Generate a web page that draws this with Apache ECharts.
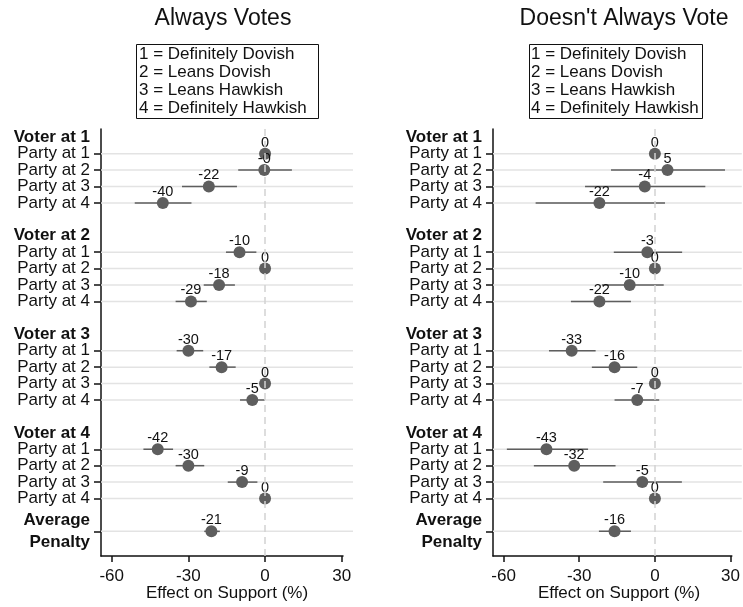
<!DOCTYPE html>
<html>
<head>
<meta charset="utf-8">
<script src="https://cdn.jsdelivr.net/npm/echarts@6/dist/echarts.min.js"></script>
<style>
  html, body { margin: 0; padding: 0; background: #fff; }
  #chart { width: 743px; height: 607px; }
</style>
</head>
<body>
<div id="chart"></div>
<script>
// Row structure (top to bottom)
const voterGroups = ['Voter at 1', 'Voter at 2', 'Voter at 3', 'Voter at 4'];
const partyLabels = ['Party at 1', 'Party at 2', 'Party at 3', 'Party at 4'];
const averageLabel = ['Average', 'Penalty'];
const panelTitles = ['Always Votes', "Doesn't Always Vote"];
const keyLines = ['1 = Definitely Dovish', '2 = Leans Dovish', '3 = Leans Hawkish', '4 = Definitely Hawkish'];
const xTickValues = [-60, -30, 0, 30];
const xAxisTitle = 'Effect on Support (%)';

// Estimates in order V1P1..V1P4, V2P1..V4P4, then the average penalty
const alwaysEst = [0, -0.3, -22, -40, -10, 0, -18, -29, -30, -17, 0, -5, -42, -30, -9, 0, -21];
const alwaysLow = [null, -10.5, -32.5, -51, -15.3, null, -24, -35, -34.6, -21.8, null, -9.8, -47.6, -35, -14.6, null, -23.8];
const alwaysHigh = [null, 10.5, -11, -28.8, -3.4, null, -11.8, -22.8, -24.2, -11.5, null, -0.2, -36, -23.8, -3, null, -17.7];

const sometimesEst = [0, 5, -4, -22, -3, 0, -10, -22, -33, -16, 0, -7, -43, -32, -5, 0, -16];
const sometimesLow = [null, -17.4, -27.7, -47.3, -16.3, null, -21, -33.3, -42, -25, null, -16, -58.7, -48, -20.5, null, -22.2];
const sometimesHigh = [null, 27.8, 20, 4, 10.8, null, 3.5, -9.5, -23.5, -7, null, 1.7, -26.5, -15.6, 10.7, null, -9.5];

const FONT = 'Liberation Sans';
const INK = '#111';
const MARK = '#5e5e5e';
const LABEL_SIZE = 17;

// Build the category slots: header, 4 parties, blank for each voter; then average
const categories = [];
const rowKinds = [];
const estimateRows = [];
voterGroups.forEach((v) => {
  categories.push(v); rowKinds.push('head');
  partyLabels.forEach((p) => {
    estimateRows.push(categories.length);
    categories.push(p); rowKinds.push('party');
  });
  categories.push(''); rowKinds.push('blank');
});
estimateRows.push(categories.length);
categories.push('average'); rowKinds.push('avg');
categories.push(''); rowKinds.push('blank');

function fmtVal(v) {
  const r = Math.round(Math.abs(v));
  return (v < 0 ? '-' : '') + r;
}

function buildPanel(idx, est, low, high) {
  const points = est.map((v, i) => [v, estimateRows[i]]);
  const bars = [];
  est.forEach((v, i) => {
    if (low[i] !== null) bars.push([low[i], high[i], estimateRows[i]]);
  });
  return [
    {
      type: 'custom',
      xAxisIndex: idx, yAxisIndex: idx,
      z: 1,
      silent: true,
      clip: false,
      data: estimateRows.map((r) => [0, r]),
      renderItem: function (params, api) {
        const y = api.coord([0, api.value(1)])[1];
        const cs = params.coordSys;
        return {
          type: 'line',
          shape: { x1: cs.x, y1: y, x2: cs.x + cs.width + 10, y2: y },
          style: { stroke: '#e3e3e3', lineWidth: 1.5 }
        };
      },
      markLine: {
        silent: true,
        symbol: 'none',
        label: { show: false },
        lineStyle: { type: [7, 5], color: '#d2d2d2', width: 1.5 },
        data: [{ xAxis: 0 }]
      }
    },
    {
      type: 'custom',
      xAxisIndex: idx, yAxisIndex: idx,
      z: 2,
      silent: true,
      data: bars,
      renderItem: function (params, api) {
        const a = api.coord([api.value(0), api.value(2)]);
        const b = api.coord([api.value(1), api.value(2)]);
        return {
          type: 'line',
          shape: { x1: a[0], y1: a[1], x2: b[0], y2: b[1] },
          style: { stroke: MARK, lineWidth: 1.5 }
        };
      }
    },
    {
      type: 'scatter',
      xAxisIndex: idx, yAxisIndex: idx,
      z: 3,
      symbol: 'circle',
      symbolSize: 12,
      itemStyle: { color: MARK, opacity: 1 },
      data: points,
      label: {
        show: true,
        position: 'inside',
        offset: [0, -11],
        fontFamily: FONT,
        fontSize: 14.5,
        color: INK,
        formatter: (p) => fmtVal(p.value[0])
      }
    }
  ];
}

const lefts = [101, 493];
const grids = lefts.map((l) => ({ left: l, top: 129, width: 242, height: 427 }));

const xAxes = [0, 1].map((i) => ({
  type: 'value',
  gridIndex: i,
  min: -64.2,
  max: 30.5,
  axisLine: { show: true, lineStyle: { color: INK, width: 1.5 } },
  axisTick: { show: true, customValues: xTickValues, length: 6, lineStyle: { color: INK, width: 1.5 } },
  axisLabel: { customValues: xTickValues, margin: 12, fontFamily: FONT, fontSize: LABEL_SIZE, color: INK },
  splitLine: { show: false }
}));

const yAxes = [0, 1].map((i) => ({
  type: 'category',
  gridIndex: i,
  inverse: true,
  data: categories,
  boundaryGap: true,
  axisLine: { show: true, onZero: false, lineStyle: { color: INK, width: 1.5 } },
  axisTick: {
    show: true,
    alignWithLabel: true,
    length: 7,
    interval: (k) => rowKinds[k] === 'party' || rowKinds[k] === 'avg',
    lineStyle: { color: INK, width: 1.5 }
  },
  splitLine: { show: false },
  axisLabel: {
    interval: 0,
    margin: 11,
    fontFamily: FONT,
    fontSize: LABEL_SIZE,
    color: INK,
    formatter: (val, k) => {
      const kind = rowKinds[k];
      if (kind === 'head') return '{b|' + val + '}';
      if (kind === 'avg') return '{b|' + averageLabel[0] + '}\n{b|' + averageLabel[1] + '}';
      return val;
    },
    rich: {
      b: { fontWeight: 'bold', fontFamily: FONT, fontSize: LABEL_SIZE, color: INK, lineHeight: 22, align: 'right' }
    }
  }
}));

// Titles, value keys and axis titles
const graphics = [];
const titleX = [223, 624];
const boxes = [
  { x: 136, w: 182, tx: 139 },
  { x: 529, w: 173, tx: 531 }
];
const axisTitleX = [227, 619];
[0, 1].forEach((i) => {
  graphics.push({
    type: 'text', x: titleX[i], y: 19,
    style: { text: panelTitles[i], fontFamily: FONT, fontSize: 23, fill: INK, textAlign: 'center', textVerticalAlign: 'middle' }
  });
  graphics.push({
    type: 'rect',
    shape: { x: boxes[i].x + 0.5, y: 44.5, width: boxes[i].w, height: 74 },
    style: { fill: '#fff', stroke: INK, lineWidth: 1 }
  });
  keyLines.forEach((t, j) => {
    graphics.push({
      type: 'text', x: boxes[i].tx, y: 54 + j * 18,
      style: { text: t, fontFamily: FONT, fontSize: 17, fill: INK, textAlign: 'left', textVerticalAlign: 'middle' }
    });
  });
  graphics.push({
    type: 'text', x: axisTitleX[i], y: 593,
    style: { text: xAxisTitle, fontFamily: FONT, fontSize: LABEL_SIZE, fill: INK, textAlign: 'center', textVerticalAlign: 'middle' }
  });
});

const chart = echarts.init(document.getElementById('chart'), null, { renderer: 'canvas' });
chart.setOption({
  animation: false,
  backgroundColor: '#fff',
  grid: grids,
  xAxis: xAxes,
  yAxis: yAxes,
  graphic: graphics,
  series: [
    ...buildPanel(0, alwaysEst, alwaysLow, alwaysHigh),
    ...buildPanel(1, sometimesEst, sometimesLow, sometimesHigh)
  ]
});
</script>
</body>
</html>
